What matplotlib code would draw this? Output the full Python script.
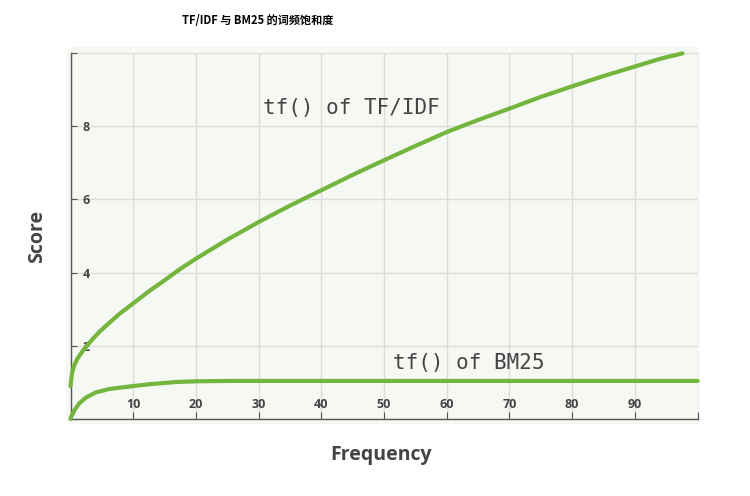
import matplotlib.pyplot as plt
from matplotlib.patches import FancyBboxPatch

# values
tfidf_freq = [0, 0.24, 0.6, 1.15, 1.95, 2.5, 3.5, 4.6, 6.2, 7.8, 10, 12.6, 15, 17.5,
              20, 25, 30, 35, 40, 45, 50, 55, 60, 65, 70, 75, 80, 85, 90, 94, 97.6]
tfidf_score = [0.9, 1.25, 1.47, 1.66, 1.86, 1.98, 2.18, 2.38, 2.63, 2.87, 3.16, 3.5,
               3.79, 4.1, 4.38, 4.9, 5.38, 5.83, 6.25, 6.67, 7.07, 7.46, 7.84, 8.17,
               8.48, 8.8, 9.09, 9.37, 9.63, 9.84, 9.99]

bm25_freq = [0, 0.08, 0.6, 1.4, 2.5, 4.1, 6.2, 10, 12.6, 16.8, 20, 25, 30, 100]
bm25_score = [0, 0.05, 0.23, 0.43, 0.59, 0.73, 0.82, 0.9, 0.95, 1.01, 1.03, 1.04,
              1.04, 1.04]

x_ticks = [0, 10, 20, 30, 40, 50, 60, 70, 80, 90, 100]
x_labels = ['', '10', '20', '30', '40', '50', '60', '70', '80', '90', '']
y_ticks = [0, 2, 4, 6, 8, 10]
y_labels = ['', '2', '4', '6', '8', '']

title = 'TF/IDF 与 BM25 的词频饱和度'

green = '#74b53d'
text_grey = '#444444'
bg = '#f6f8f3'

W, H = 750, 496
fig = plt.figure(figsize=(7.5, 4.96), dpi=100)

# light panel behind the axes
panel = FancyBboxPatch((66 / W, 1 - 424 / H), 634 / W, 377 / H,
                       boxstyle='round,pad=0,rounding_size=0.004',
                       transform=fig.transFigure, facecolor=bg, edgecolor='none',
                       zorder=-1)
fig.patches.append(panel)

ax = fig.add_axes([70.5 / W, 1 - 419 / H, 627 / W, 366 / H])
ax.set_facecolor(bg)
ax.set_xlim(0, 100)
ax.set_ylim(0, 10)

ax.grid(True, color='#dcdcdc', lw=1)
ax.set_axisbelow(True)
for side in ['top', 'right']:
    ax.spines[side].set_visible(False)
for side in ['left', 'bottom']:
    ax.spines[side].set_color('#555555')
    ax.spines[side].set_linewidth(1)

ax.set_xticks(x_ticks)
ax.set_xticklabels(x_labels)
ax.set_yticks(y_ticks)
ax.set_yticklabels(y_labels)

ax.tick_params(axis='x', direction='in', length=5, color='#555555', pad=-5.5,
               labelsize=9, labelcolor=text_grey)
ax.tick_params(axis='y', direction='in', length=4, color='#555555', pad=-8.5,
               labelsize=9, labelcolor=text_grey)
for lab in ax.get_xticklabels():
    lab.set_verticalalignment('bottom')
    lab.set_fontfamily('Open Sans')
    lab.set_fontweight('bold')
for lab in ax.get_yticklabels():
    lab.set_horizontalalignment('left')
    lab.set_fontfamily('Open Sans')
    lab.set_fontweight('bold')

ax.plot(tfidf_freq, tfidf_score, color=green, lw=3, solid_capstyle='round',
        solid_joinstyle='round', zorder=3, clip_on=False)
ax.plot(bm25_freq, bm25_score, color=green, lw=3, solid_capstyle='round',
        solid_joinstyle='round', zorder=3, clip_on=False)

ax.text(30.7, 8.5, 'tf() of TF/IDF', family='DejaVu Sans Mono', fontsize=15,
        color=text_grey, va='center', ha='left')
ax.text(51.4, 1.53, 'tf() of BM25', family='DejaVu Sans Mono', fontsize=15,
        color=text_grey, va='center', ha='left')

fig.text(37 / W, 1 - 236 / H, 'Score', rotation=90, ha='center', va='center',
         family='Open Sans', fontweight='bold', fontsize=14, color=text_grey)
fig.text(381.5 / W, 1 - 455 / H, 'Frequency', ha='center', va='center',
         family='Open Sans', fontweight='bold', fontsize=14, color=text_grey)

fig.text(257.5 / W, 1 - 21 / H, title, ha='center', va='center',
         family=['Noto Sans CJK SC', 'DejaVu Sans'], fontsize=8, fontweight='bold',
         color='black')

fig.savefig('out.png', dpi=100, facecolor='white')
